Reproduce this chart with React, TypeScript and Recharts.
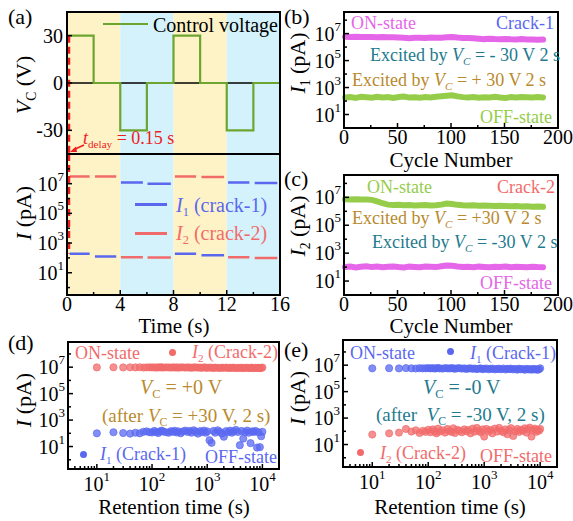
import React from "react";
import {
  LineChart,
  Line,
  ScatterChart,
  Scatter,
  XAxis,
  YAxis,
  ReferenceArea,
  ReferenceLine,
} from "recharts";

const FONT = '"Liberation Serif", Tinos, "Times New Roman", Times, "DejaVu Serif", serif';

// (a) control voltage, step after each time
const controlTime = [0, 2, 4, 6, 8, 10, 12, 14, 16];
const controlVoltage = [30, 0, -30, 0, 30, 0, -30, 0, 0];
const phaseStart = [0, 4, 8, 12];
const phaseEnd = [4, 8, 12, 16];
const timeTicks = [0, 2, 4, 6, 8, 10, 12, 14, 16];
const voltTicks = [-30, 0, 30];

// (a) current readout dashes (pA)
const dashStart = [0.2, 2.1, 4.05, 6.05, 8.1, 10.1, 12.1, 14.1];
const dashEnd = [1.7, 3.7, 5.7, 7.8, 9.7, 11.8, 13.7, 15.8];
const dashI1 = [190, 126, 1.2e7, 1e7, 190, 150, 1.2e7, 1.1e7];
const dashI2 = [3e7, 3e7, 110, 108, 3.1e7, 2.8e7, 110, 100];

// (b), (c) cycling
const cycles = [1, 6, 11, 16, 21, 26, 31, 36, 41, 46, 51, 56, 61, 66, 71, 76, 81, 86, 91, 96, 101, 106, 111, 116, 121, 126, 131, 136, 141, 146, 151, 156, 161, 166, 171, 176, 181, 186];
const cycleTicks = [0, 25, 50, 75, 100, 125, 150, 175, 200];
const bOn = [5.8e6, 5.7e6, 5.9e6, 5.6e6, 5.5e6, 5.6e6, 5.4e6, 5.5e6, 5.3e6, 5.4e6, 5.2e6, 5.0e6, 4.6e6, 4.9e6, 5.0e6, 4.8e6, 5.1e6, 4.9e6, 5.0e6, 5.4e6, 5.6e6, 5.1e6, 4.8e6, 4.7e6, 4.6e6, 4.2e6, 3.9e6, 4.1e6, 3.9e6, 3.8e6, 4.0e6, 3.8e6, 3.7e6, 3.9e6, 3.6e6, 3.7e6, 3.5e6, 3.6e6];
const bOff = [180, 200, 170, 210, 190, 175, 205, 185, 195, 170, 200, 215, 180, 190, 175, 200, 185, 210, 230, 250, 270, 220, 195, 180, 200, 175, 190, 185, 205, 180, 170, 195, 185, 200, 190, 180, 195, 185];
const cOn = [7.2e6, 7.0e6, 7.3e6, 6.9e6, 7.1e6, 6.6e6, 5.2e6, 3.8e6, 3.0e6, 2.8e6, 2.9e6, 2.7e6, 2.8e6, 2.6e6, 2.7e6, 2.8e6, 2.6e6, 2.7e6, 3.0e6, 3.6e6, 3.3e6, 2.9e6, 2.7e6, 2.6e6, 2.7e6, 2.5e6, 2.6e6, 2.5e6, 2.4e6, 2.5e6, 2.4e6, 2.3e6, 2.4e6, 2.2e6, 2.3e6, 2.1e6, 2.2e6, 2.1e6];
const cOff = [100, 110, 95, 105, 115, 100, 108, 96, 104, 112, 100, 95, 108, 102, 98, 110, 105, 100, 115, 130, 125, 110, 100, 105, 98, 108, 102, 96, 105, 100, 110, 98, 104, 100, 96, 106, 100, 98];

// (d), (e) retention
const retTime = [
  10, 20, 30, 40, 50, 60, 70, 80, 90, 100,
  110, 120, 130, 140, 150, 160, 180, 200, 220, 240,
  260, 280, 300, 330, 360, 400, 440, 480, 520, 570,
  620, 680, 740, 800, 870, 940, 1000, 1100, 1200, 1300,
  1400, 1550, 1700, 1850, 2000, 2200, 2400, 2600, 2800, 3000,
  3300, 3600, 3900, 4200, 4500, 4900, 5300, 5700, 6100, 6500,
  7000, 7500, 8000, 8500, 9000, 9500, 10000,
];
const retTicks = [4, 5, 6, 7, 8, 9, 10, 20, 30, 40, 50, 60, 70, 80, 90, 100, 200, 300, 400, 500, 600, 700, 800, 900, 1000, 2000, 3000, 4000, 5000, 6000, 7000, 8000, 9000, 10000];
const dOn = [
  9.6e6, 9.8e6, 9.5e6, 9.7e6, 9.6e6, 9.9e6, 9.4e6, 9.6e6, 9.7e6, 9.5e6,
  9.6e6, 9.3e6, 9.7e6, 9.5e6, 9.8e6, 9.4e6, 9.6e6, 9.5e6, 9.3e6, 9.7e6,
  9.4e6, 9.6e6, 9.2e6, 9.5e6, 9.7e6, 9.3e6, 9.6e6, 9.4e6, 9.1e6, 9.5e6,
  9.6e6, 9.2e6, 9.4e6, 9.0e6, 9.5e6, 9.3e6, 8.9e6, 9.4e6, 9.1e6, 8.8e6,
  9.3e6, 9.0e6, 8.7e6, 9.2e6, 8.9e6, 9.4e6, 8.6e6, 9.1e6, 8.8e6, 9.3e6,
  8.5e6, 9.0e6, 8.7e6, 9.2e6, 8.4e6, 8.9e6, 9.1e6, 8.5e6, 8.8e6, 9.2e6,
  8.3e6, 8.9e6, 8.6e6, 9.0e6, 8.4e6, 8.8e6, 9.4e6,
];
const dOff = [
  100, 120, 105, 95, 110, 100, 130, 140, 120, 115,
  150, 125, 105, 140, 160, 135, 120, 110, 145, 130,
  155, 115, 140, 100, 135, 160, 125, 150, 110, 170,
  130, 95, 145, 120, 160, 110, 140, 30, 19, 150,
  110, 170, 130, 95, 55, 145, 120, 160, 110, 140,
  180, 125, 12.6, 150, 40, 120, 160, 110, 18, 140,
  125, 150, 8.3, 120, 9, 60, 130,
];
const eOn = [
  5.8e6, 5.9e6, 5.7e6, 6.0e6, 5.8e6, 5.6e6, 5.9e6, 5.7e6, 5.8e6, 6.0e6,
  5.7e6, 5.9e6, 5.6e6, 5.8e6, 6.1e6, 5.7e6, 5.5e6, 5.9e6, 5.8e6, 5.6e6,
  6.0e6, 5.7e6, 5.4e6, 5.8e6, 5.9e6, 5.5e6, 5.7e6, 5.2e6, 5.6e6, 5.8e6,
  5.3e6, 5.6e6, 5.1e6, 5.5e6, 5.7e6, 5.0e6, 5.4e6, 5.6e6, 4.9e6, 5.3e6,
  5.5e6, 4.8e6, 5.2e6, 5.4e6, 4.9e6, 5.6e6, 4.7e6, 5.3e6, 5.0e6, 5.5e6,
  4.8e6, 5.2e6, 4.6e6, 5.4e6, 4.9e6, 5.1e6, 4.5e6, 5.3e6, 4.8e6, 5.0e6,
  4.6e6, 5.2e6, 4.7e6, 5.0e6, 4.5e6, 4.9e6, 5.8e6,
];
const eOff = [
  57, 70, 80, 150, 95, 120, 75, 110, 90, 130,
  85, 140, 100, 70, 160, 95, 120, 80, 150, 105,
  90, 170, 75, 130, 110, 85, 140, 100, 125, 70,
  160, 95, 180, 110, 85, 140, 40, 150, 100, 125,
  70, 160, 95, 180, 110, 85, 140, 60, 120, 175,
  45, 100, 150, 90, 130, 110, 170, 80, 140, 190,
  40, 120, 160, 90, 130, 110, 150,
];

const decades = [1, 10, 100, 1e3, 1e4, 1e5, 1e6, 1e7, 1e8];

const RED = "#F26B6B";
const BLUE = "#5A68F0";
const MAGENTA = "#E566E8";
const GREEN = "#95CD4B";
const LINE_GREEN = "#6CA630";
const GOLD = "#B98A2E";
const TEAL = "#1E7B8E";
const ANN_RED = "#EE1C1C";
const YELLOW = "#FEF3C6";
const CYAN = "#D4F2FB";

const YW = 60;
const PAD = 6;
const RP = 20;
type Rect = { x: number; y: number; w: number; h: number; xh: number };
const A_TOP: Rect = { x: 67, y: 12, w: 213, h: 142, xh: 0 };
const A_BOT: Rect = { x: 67, y: 154, w: 213, h: 141, xh: 34 };
const B_RECT: Rect = { x: 344, y: 12, w: 214, h: 116, xh: 34 };
const C_RECT: Rect = { x: 344, y: 175, w: 214, h: 120, xh: 34 };
const D_RECT: Rect = { x: 68, y: 342, w: 211, h: 127, xh: 34 };
const E_RECT: Rect = { x: 343, y: 340, w: 214, h: 127, xh: 34 };

const place = (r: Rect): React.CSSProperties => ({ position: "absolute", left: r.x - YW, top: r.y - PAD });
const dims = (r: Rect) => ({ width: r.w + YW + RP, height: r.h + PAD + r.xh });
const margin = { top: PAD, right: RP, bottom: 0, left: 0 };

const tickFont = { fontFamily: FONT, fontSize: 20, fill: "#000" };

const Pow10 = ({ x, y, e, anchor }: any) => (
  <text x={x} y={y} textAnchor={anchor} style={tickFont}>
    10<tspan style={{ fontSize: 13 }} dy={-10}>{e}</tspan>
  </text>
);

const logYTick = (p: any) => {
  const e = Math.round(Math.log10(p.payload.value));
  const major = Math.abs(e % 2) === 1;
  return (
    <g>
      <line x1={p.x} x2={p.x + (major ? 5 : 3)} y1={p.y} y2={p.y} stroke="#000" strokeWidth={1.5} />
      {major && <Pow10 x={p.x - 3} y={p.y + 7} e={e} anchor="end" />}
    </g>
  );
};

const voltTick = (p: any) => (
  <g>
    <line x1={p.x} x2={p.x + 5} y1={p.y} y2={p.y} stroke="#000" strokeWidth={1.5} />
    <text x={p.x - 4} y={p.y + 7} textAnchor="end" style={tickFont}>
      {p.payload.value}
    </text>
  </g>
);

const linXTick = (step: number, label: boolean) => (p: any) => {
  const v = p.payload.value;
  const major = v % step === 0;
  return (
    <g>
      <line x1={p.x} x2={p.x} y1={p.y} y2={p.y - (major ? 5 : 3)} stroke="#000" strokeWidth={1.5} />
      {label && major && (
        <text x={p.x} y={p.y + 16} textAnchor="middle" style={tickFont}>
          {v}
        </text>
      )}
    </g>
  );
};

const logXTick = (p: any) => {
  const e = Math.log10(p.payload.value);
  const major = Math.abs(e - Math.round(e)) < 1e-9;
  return (
    <g>
      <line x1={p.x} x2={p.x} y1={p.y} y2={p.y - (major ? 5 : 3)} stroke="#000" strokeWidth={1.5} />
      {major && <Pow10 x={p.x} y={p.y + 22} e={Math.round(e)} anchor="middle" />}
    </g>
  );
};

const dotShape = (color: string) => (p: any) => (
  <circle cx={p.cx} cy={p.cy} r={3.6} fill={color} fillOpacity={0.75} stroke={color} strokeWidth={0.7} />
);

const Sub = ({ children }: any) => (
  <span style={{ fontSize: "0.62em", position: "relative", top: "0.35em" }}>{children}</span>
);

const Txt = ({ x, y, size = 18, color = "#000", center = false, children }: any) => (
  <div
    style={{
      position: "absolute",
      left: x,
      top: y,
      transform: `translate(${center ? "-50%" : "0"}, -50%)`,
      fontFamily: FONT,
      fontSize: size,
      color,
      whiteSpace: "nowrap",
      lineHeight: 1,
    }}
  >
    {children}
  </div>
);

const VTxt = ({ x, y, size = 22, children }: any) => (
  <div
    style={{
      position: "absolute",
      left: x,
      top: y,
      transform: "translate(-50%, -50%) rotate(-90deg)",
      fontFamily: FONT,
      fontSize: size,
      whiteSpace: "nowrap",
      lineHeight: 1,
    }}
  >
    {children}
  </div>
);

const Frame = ({ r, h }: { r: Rect; h?: number }) => (
  <div
    style={{
      position: "absolute",
      left: r.x - 1,
      top: r.y - 1,
      width: r.w + 2,
      height: (h ?? r.h) + 2,
      border: "2px solid #000",
      boxSizing: "border-box",
      pointerEvents: "none",
    }}
  />
);

const Marker = ({ x, y, color }: any) => (
  <div style={{ position: "absolute", left: x - 3.5, top: y - 3.5, width: 7, height: 7, borderRadius: "50%", background: color }} />
);

const App = () => {
  const controlRows = controlTime.map((t, i) => ({ t, v: controlVoltage[i] }));
  const dashRows = dashStart.flatMap((s, k) => [
    { t: s, i1: dashI1[k], i2: dashI2[k] },
    { t: dashEnd[k], i1: dashI1[k], i2: dashI2[k] },
    { t: dashEnd[k] + 0.1, i1: null, i2: null },
  ]);
  const bRows = cycles.map((c, i) => ({ c, on: bOn[i], off: bOff[i] }));
  const cRows = cycles.map((c, i) => ({ c, on: cOn[i], off: cOff[i] }));
  const rows = (vals: number[]) => retTime.map((t, i) => ({ t, v: vals[i] }));

  const phases = phaseStart.map((s, k) => (
    <ReferenceArea key={k} x1={s} x2={phaseEnd[k]} fill={k % 2 ? CYAN : YELLOW} fillOpacity={1} stroke="none" />
  ));

  const cycleAxes = [
    <XAxis key="x" type="number" dataKey="c" domain={[0, 200]} ticks={cycleTicks} interval={0} height={34} axisLine={false} tickSize={0} tickMargin={0} tick={linXTick(50, true)} />,
    <YAxis key="y" type="number" scale="log" domain={[1, 4e8]} allowDataOverflow ticks={decades} interval={0} width={YW} axisLine={false} tickSize={0} tickMargin={0} tick={logYTick} />,
  ];

  const retAxes = [
    <XAxis key="x" type="number" dataKey="t" scale="log" domain={[3, 2e4]} allowDataOverflow ticks={retTicks} interval={0} height={34} axisLine={false} tickSize={0} tickMargin={0} tick={logXTick} />,
    <YAxis key="y" type="number" dataKey="v" scale="log" domain={[0.2, 8e8]} allowDataOverflow ticks={decades} interval={0} width={YW} axisLine={false} tickSize={0} tickMargin={0} tick={logYTick} />,
  ];

  return (
    <div style={{ position: "absolute", left: 0, top: 0, width: 573, height: 521, background: "#fff", overflow: "hidden", fontFamily: FONT }}>
      {/* (a) top: control voltage */}
      <div style={place(A_TOP)}>
        <LineChart {...dims(A_TOP)} data={controlRows} margin={margin}>
          {phases}
          <ReferenceLine y={0} stroke="#000" strokeWidth={1.5} />
          <XAxis type="number" dataKey="t" domain={[0, 16]} ticks={timeTicks} interval={0} height={0} axisLine={false} tickSize={0} tickMargin={0} tick={linXTick(4, false)} />
          <YAxis type="number" domain={[-45, 45]} ticks={voltTicks} interval={0} width={YW} axisLine={false} tickSize={0} tickMargin={0} tick={voltTick} />
          <Line dataKey="v" type="stepAfter" stroke={LINE_GREEN} strokeWidth={2.2} dot={false} isAnimationActive={false} />
          <ReferenceLine segment={[{ x: 0.15, y: 30 }, { x: 0.15, y: -45 }]} stroke={ANN_RED} strokeWidth={2.5} strokeDasharray="7 4" ifOverflow="visible" />
        </LineChart>
      </div>

      {/* (a) bottom: current */}
      <div style={place(A_BOT)}>
        <LineChart {...dims(A_BOT)} data={dashRows} margin={margin}>
          {phases}
          <XAxis type="number" dataKey="t" domain={[0, 16]} ticks={timeTicks} interval={0} height={34} axisLine={false} tickSize={0} tickMargin={0} tick={linXTick(4, true)} />
          <YAxis type="number" scale="log" domain={[Math.pow(10, -0.5), 1e9]} allowDataOverflow ticks={decades} interval={0} width={YW} axisLine={false} tickSize={0} tickMargin={0} tick={logYTick} />
          <Line dataKey="i1" stroke={BLUE} strokeWidth={2.5} dot={false} isAnimationActive={false} />
          <Line dataKey="i2" stroke={RED} strokeWidth={2.5} dot={false} isAnimationActive={false} />
          <ReferenceLine segment={[{ x: 0.15, y: 1e9 }, { x: 0.15, y: 200 }]} stroke={ANN_RED} strokeWidth={2.5} strokeDasharray="7 4" ifOverflow="visible" />
        </LineChart>
      </div>

      {/* (b) */}
      <div style={place(B_RECT)}>
        <LineChart {...dims(B_RECT)} data={bRows} margin={margin}>
          {cycleAxes}
          <Line dataKey="on" stroke={MAGENTA} strokeWidth={6} strokeLinecap="round" dot={false} isAnimationActive={false} />
          <Line dataKey="off" stroke={GREEN} strokeWidth={6} strokeLinecap="round" dot={false} isAnimationActive={false} />
        </LineChart>
      </div>

      {/* (c) */}
      <div style={place(C_RECT)}>
        <LineChart {...dims(C_RECT)} data={cRows} margin={margin}>
          {cycleAxes}
          <Line dataKey="on" stroke={GREEN} strokeWidth={6} strokeLinecap="round" dot={false} isAnimationActive={false} />
          <Line dataKey="off" stroke={MAGENTA} strokeWidth={6} strokeLinecap="round" dot={false} isAnimationActive={false} />
        </LineChart>
      </div>

      {/* (d) */}
      <div style={place(D_RECT)}>
        <ScatterChart {...dims(D_RECT)} margin={margin}>
          {retAxes}
          <Scatter data={rows(dOn)} shape={dotShape(RED)} isAnimationActive={false} />
          <Scatter data={rows(dOff)} shape={dotShape(BLUE)} isAnimationActive={false} />
        </ScatterChart>
      </div>

      {/* (e) */}
      <div style={place(E_RECT)}>
        <ScatterChart {...dims(E_RECT)} margin={margin}>
          {retAxes}
          <Scatter data={rows(eOn)} shape={dotShape(BLUE)} isAnimationActive={false} />
          <Scatter data={rows(eOff)} shape={dotShape(RED)} isAnimationActive={false} />
        </ScatterChart>
      </div>

      <Frame r={A_TOP} h={283} />
      <div style={{ position: "absolute", left: 67, top: 153, width: 213, height: 2, background: "#000" }} />
      <Frame r={B_RECT} />
      <Frame r={C_RECT} />
      <Frame r={D_RECT} />
      <Frame r={E_RECT} />

      {/* panel letters */}
      <Txt x={8} y={17} size={22}>(a)</Txt>
      <Txt x={284} y={17} size={22}>(b)</Txt>
      <Txt x={284} y={179} size={22}>(c)</Txt>
      <Txt x={8} y={343} size={22}>(d)</Txt>
      <Txt x={284} y={350} size={22}>(e)</Txt>

      {/* axis titles */}
      <VTxt x={24} y={85}><i>V</i><Sub>C</Sub> (V)</VTxt>
      <VTxt x={24} y={213}><i>I</i> (pA)</VTxt>
      <VTxt x={298} y={63}><i>I</i><Sub>1</Sub> (pA)</VTxt>
      <VTxt x={298} y={226}><i>I</i><Sub>2</Sub> (pA)</VTxt>
      <VTxt x={24} y={400}><i>I</i> (pA)</VTxt>
      <VTxt x={298} y={398}><i>I</i> (pA)</VTxt>
      <Txt x={174} y={326} size={21} center>Time (s)</Txt>
      <Txt x={451} y={160} size={21} center>Cycle Number</Txt>
      <Txt x={451} y={326} size={21} center>Cycle Number</Txt>
      <Txt x={174} y={507} size={21} center>Retention time (s)</Txt>
      <Txt x={450} y={507} size={21} center>Retention time (s)</Txt>

      {/* (a) legends and annotation */}
      <div style={{ position: "absolute", left: 103, top: 23, width: 45, height: 2, background: LINE_GREEN }} />
      <Txt x={153} y={25} size={20}>Control voltage</Txt>
      <div style={{ position: "absolute", left: 135, top: 203, width: 32, height: 2.5, background: BLUE }} />
      <Txt x={176} y={205} size={20} color={BLUE}><i>I</i><Sub>1</Sub> (crack-1)</Txt>
      <div style={{ position: "absolute", left: 135, top: 232, width: 32, height: 2.5, background: RED }} />
      <Txt x={176} y={233} size={20} color={RED}><i>I</i><Sub>2</Sub> (crack-2)</Txt>
      <Txt x={83} y={138} size={18} color={ANN_RED}><i>t</i><Sub>delay</Sub> = 0.15 s</Txt>
      <svg style={{ position: "absolute", left: 66, top: 140, overflow: "visible" }} width={30} height={16}>
        <line x1={18} y1={5} x2={7} y2={10} stroke={ANN_RED} strokeWidth={1.5} />
        <polygon points="4,12 10,6.5 11,12" fill={ANN_RED} />
      </svg>

      {/* (b) annotations */}
      <Txt x={351} y={23} color={MAGENTA}>ON-state</Txt>
      <Txt x={496} y={23} color={BLUE}>Crack-1</Txt>
      <Txt x={370} y={55} color={TEAL}>Excited by <i>V</i><Sub><i>C</i></Sub> = - 30 V 2 s</Txt>
      <Txt x={352} y={80} color={GOLD}>Excited by <i>V</i><Sub><i>C</i></Sub> = + 30 V 2 s</Txt>
      <Txt x={480} y={117} color={GREEN}>OFF-state</Txt>

      {/* (c) annotations */}
      <Txt x={367} y={187} color={GREEN}>ON-state</Txt>
      <Txt x={497} y={187} color={RED}>Crack-2</Txt>
      <Txt x={352} y={218} color={GOLD}>Excited by <i>V</i><Sub><i>C</i></Sub> = +30 V 2 s</Txt>
      <Txt x={372} y={242} color={TEAL}>Excited by <i>V</i><Sub><i>C</i></Sub> = -30 V 2 s</Txt>
      <Txt x={480} y={283} color={MAGENTA}>OFF-state</Txt>

      {/* (d) annotations */}
      <Txt x={75} y={353} color={RED}>ON-state</Txt>
      <Marker x={172} y={352} color={RED} />
      <Txt x={192} y={352} color={RED}><i>I</i><Sub>2</Sub> (Crack-2)</Txt>
      <Txt x={140} y={387} size={20} color={GOLD}><i>V</i><Sub>C</Sub> = +0 V</Txt>
      <Txt x={102} y={415} size={19} color={GOLD}>(after <i>V</i><Sub>C</Sub> = +30 V, 2 s)</Txt>
      <Marker x={83} y={454} color={BLUE} />
      <Txt x={100} y={454} color={BLUE}><i>I</i><Sub>1</Sub> (Crack-1)</Txt>
      <Txt x={205} y={457} color={BLUE}>OFF-state</Txt>

      {/* (e) annotations */}
      <Txt x={350} y={353} color={BLUE}>ON-state</Txt>
      <Marker x={450} y={351} color={BLUE} />
      <Txt x={470} y={353} color={BLUE}><i>I</i><Sub>1</Sub> (Crack-1)</Txt>
      <Txt x={423} y={387} size={20} color={TEAL}><i>V</i><Sub>C</Sub> = -0 V</Txt>
      <Txt x={376} y={414} size={19} color={TEAL}>(after&nbsp; <i>V</i><Sub>C</Sub> = -30 V, 2 s)</Txt>
      <Marker x={360} y={452} color={RED} />
      <Txt x={380} y={453} color={RED}><i>I</i><Sub>2</Sub> (Crack-2)</Txt>
      <Txt x={480} y={456} color={RED}>OFF-state</Txt>
    </div>
  );
};

export default App;
